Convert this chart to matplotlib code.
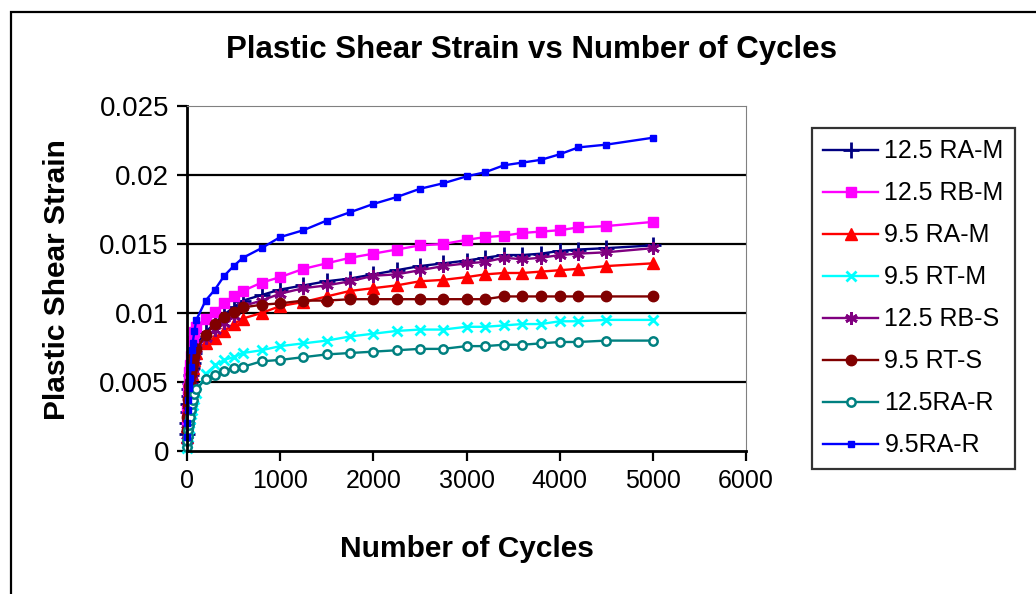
import matplotlib
matplotlib.use("Agg")
import matplotlib.pyplot as plt
from matplotlib.patches import Rectangle

plt.rcParams['font.family'] = ['Liberation Sans', 'DejaVu Sans']

# Number of cycles (shared by all specimens)
cycles = [0, 5, 10, 15, 20, 25, 30, 40, 50, 60, 80, 100, 200, 300, 400, 500, 600, 800,
          1000, 1250, 1500, 1750, 2000, 2250, 2500, 2750, 3000, 3200, 3400, 3600,
          3800, 4000, 4200, 4500, 5000]

ra_m_125 = [0.0012, 0.002, 0.0028, 0.0034, 0.0040, 0.0045, 0.0049, 0.0055, 0.0060, 0.0064,
            0.0071, 0.0077, 0.0086, 0.0093, 0.0099, 0.0104, 0.0109, 0.0113, 0.0117, 0.0120,
            0.0123, 0.0125, 0.0128, 0.0131, 0.0134, 0.0136, 0.0138, 0.0140, 0.0142, 0.0142,
            0.0143, 0.0145, 0.0146, 0.0147, 0.0149]
rb_m_125 = [0.0020, 0.0030, 0.0039, 0.0046, 0.0052, 0.0057, 0.0062, 0.0069, 0.0075, 0.0080,
            0.0086, 0.0090, 0.0096, 0.0101, 0.0107, 0.0112, 0.0116, 0.0122, 0.0126, 0.0132,
            0.0136, 0.0140, 0.0143, 0.0146, 0.0149, 0.0150, 0.0153, 0.0155, 0.0156, 0.0158,
            0.0159, 0.0160, 0.0162, 0.0163, 0.0166]
ra_m_95 = [0.0010, 0.0018, 0.0026, 0.0032, 0.0037, 0.0041, 0.0045, 0.0051, 0.0056, 0.0060,
           0.0066, 0.0071, 0.0078, 0.0082, 0.0087, 0.0092, 0.0096, 0.0100, 0.0105, 0.0108,
           0.0112, 0.0116, 0.0118, 0.0120, 0.0123, 0.0124, 0.0126, 0.0128, 0.0129, 0.0129,
           0.0130, 0.0131, 0.0132, 0.0134, 0.0136]
rt_m_95 = [0.0002, 0.0006, 0.0010, 0.0013, 0.0017, 0.0020, 0.0023, 0.0027, 0.0030, 0.0033,
           0.0038, 0.0042, 0.0056, 0.0062, 0.0066, 0.0068, 0.0071, 0.0073, 0.0076, 0.0078,
           0.0080, 0.0083, 0.0085, 0.0087, 0.0088, 0.0088, 0.0090, 0.0090, 0.0091, 0.0092,
           0.0092, 0.0094, 0.0094, 0.0095, 0.0095]
rb_s_125 = [0.0008, 0.0016, 0.0024, 0.0030, 0.0036, 0.0040, 0.0045, 0.0051, 0.0056, 0.0060,
            0.0068, 0.0074, 0.0082, 0.0088, 0.0093, 0.0098, 0.0105, 0.0109, 0.0114, 0.0118,
            0.0120, 0.0123, 0.0127, 0.0128, 0.0131, 0.0134, 0.0136, 0.0137, 0.0140, 0.0139,
            0.0140, 0.0142, 0.0143, 0.0144, 0.0147]
rt_s_95 = [0.0015, 0.0025, 0.0033, 0.0038, 0.0043, 0.0047, 0.0050, 0.0056, 0.0060, 0.0064,
           0.0069, 0.0074, 0.0084, 0.0092, 0.0097, 0.0101, 0.0104, 0.0106, 0.0107, 0.0109,
           0.0109, 0.0110, 0.0110, 0.0110, 0.0110, 0.0110, 0.0110, 0.0110, 0.0112, 0.0112,
           0.0112, 0.0112, 0.0112, 0.0112, 0.0112]
ra_r_125 = [0.0003, 0.0007, 0.0011, 0.0015, 0.0019, 0.0022, 0.0025, 0.0030, 0.0034, 0.0037,
            0.0041, 0.0045, 0.0052, 0.0055, 0.0058, 0.0060, 0.0061, 0.0065, 0.0066, 0.0068,
            0.0070, 0.0071, 0.0072, 0.0073, 0.0074, 0.0074, 0.0076, 0.0076, 0.0077, 0.0077,
            0.0078, 0.0079, 0.0079, 0.0080, 0.0080]
ra_r_95 = [0.0010, 0.0020, 0.0030, 0.0037, 0.0046, 0.0050, 0.0053, 0.0061, 0.0073, 0.0078,
           0.0087, 0.0095, 0.0109, 0.0117, 0.0127, 0.0134, 0.0140, 0.0147, 0.0155, 0.0160,
           0.0167, 0.0173, 0.0179, 0.0184, 0.0190, 0.0194, 0.0199, 0.0202, 0.0207, 0.0209,
           0.0211, 0.0215, 0.0220, 0.0222, 0.0227]

labels = ['12.5 RA-M', '12.5 RB-M', '9.5 RA-M', '9.5 RT-M',
          '12.5 RB-S', '9.5 RT-S', '12.5RA-R', '9.5RA-R']
xticks = [0, 1000, 2000, 3000, 4000, 5000, 6000]
yticks = [0, 0.005, 0.01, 0.015, 0.02, 0.025]
ytick_labels = ['0', '0.005', '0.01', '0.015', '0.02', '0.025']

fig = plt.figure(figsize=(10.36, 5.94), dpi=100)
ax = fig.add_axes([187 / 1036, 1 - 451 / 594, (746 - 187) / 1036, (451 - 106) / 594])

# outer chart border (cut off at right and bottom)
fig.patches.append(Rectangle((11 / 1036, -0.1), 1.2, 1 - 12 / 594 + 0.1,
                             transform=fig.transFigure, fill=False,
                             edgecolor='black', linewidth=1.6))

styles = [
    dict(color='#000080', marker='+', ms=12, mew=2),
    dict(color='#FF00FF', marker='s', ms=7.5),
    dict(color='#FF0000', marker='^', ms=8),
    dict(color='#00FFFF', marker='x', ms=7.5, mew=2),
    dict(color='#800080', marker=(6, 2, 0), ms=9, mew=2),
    dict(color='#800000', marker='o', ms=7.5),
    dict(color='#008080', marker='o', ms=6, mfc='white', mew=1.8),
    dict(color='#0000FF', marker='s', ms=5),
]
series = [ra_m_125, rb_m_125, ra_m_95, rt_m_95, rb_s_125, rt_s_95, ra_r_125, ra_r_95]

for ys, lab, st in zip(series, labels, styles):
    ax.plot(cycles, ys, label=lab, lw=1.7, clip_on=False, **st)

ax.set_xlim(0, 6000)
ax.set_ylim(0, 0.025)
ax.set_xticks(xticks)
ax.set_xticklabels([str(t) for t in xticks])
ax.set_yticks(yticks)
ax.set_yticklabels(ytick_labels)
ax.tick_params(direction='out', length=7, width=1.6, pad=6)
ax.tick_params(axis='y', labelsize=20)
ax.tick_params(axis='x', labelsize=18)

for y in yticks[1:-1]:
    ax.axhline(y, color='black', lw=1.6, zorder=0)
ax.spines['top'].set_color('#808080')
ax.spines['right'].set_color('#808080')
ax.spines['left'].set_linewidth(2)
ax.spines['bottom'].set_linewidth(2)

fig.text(531 / 1036, 1 - 50 / 594, 'Plastic Shear Strain vs Number of Cycles',
         ha='center', va='center', fontsize=22.5, fontweight='bold')
fig.text(467 / 1036, 1 - 549 / 594, 'Number of Cycles',
         ha='center', va='center', fontsize=21.5, fontweight='bold')
fig.text(57 / 1036, 1 - 280 / 594, 'Plastic Shear Strain', rotation=90,
         ha='center', va='center', fontsize=21.5, fontweight='bold')

leg = fig.legend(loc='upper left', bbox_to_anchor=(812 / 1036, 1 - 128 / 594),
                 fontsize=18, frameon=True, fancybox=False, edgecolor='black',
                 handlelength=2.2, labelspacing=0.72, borderpad=0.45,
                 handletextpad=0.25, borderaxespad=0)
leg.get_frame().set_linewidth(1.6)

fig.savefig('out.png', dpi=100)
